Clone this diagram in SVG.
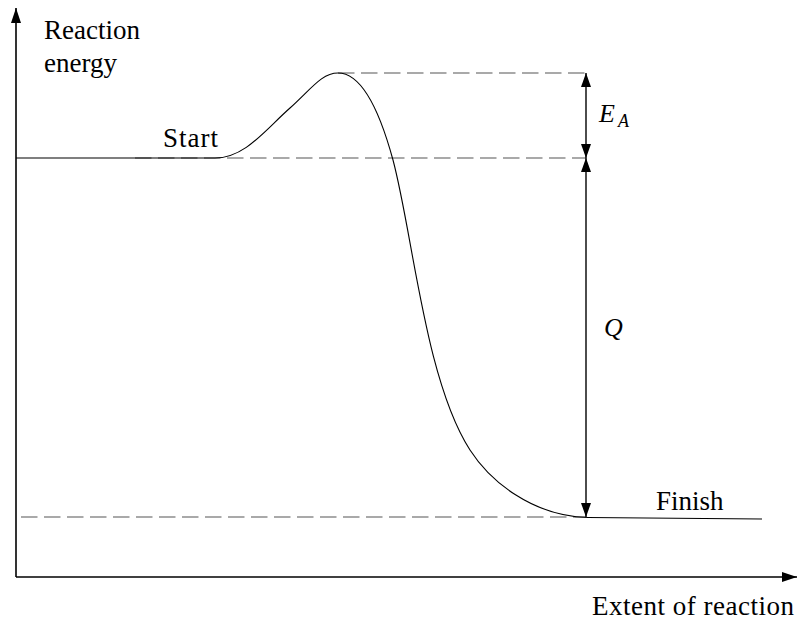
<svg xmlns="http://www.w3.org/2000/svg" width="798" height="621" viewBox="0 0 798 621">
<style>
.dash{stroke:#555;stroke-width:1.1;stroke-dasharray:16.5 6.5;fill:none}
.axis{stroke:#000;stroke-width:1.6;fill:none}
.arr{stroke:#000;stroke-width:1.4;fill:none}
.curve{stroke:#000;stroke-width:1.1;fill:none}
</style>
<defs>
<marker id="ah" viewBox="0 0 14 10" refX="14" refY="5" markerWidth="14" markerHeight="10" markerUnits="userSpaceOnUse" orient="auto-start-reverse">
<path d="M0,0 L14,5 L0,10 z" fill="#000"/>
</marker>
<marker id="axh" viewBox="0 0 15 10" refX="15" refY="5" markerWidth="15" markerHeight="10" markerUnits="userSpaceOnUse" orient="auto">
<path d="M0,0 L15,5 L0,10 z" fill="#000"/>
</marker>
</defs>
<g id="axes">
<line class="axis" x1="16" y1="577" x2="16" y2="8" marker-end="url(#axh)"/>
<line class="axis" x1="16" y1="577" x2="797" y2="577" marker-end="url(#axh)"/>
</g>
<g id="guides">
<line class="dash" x1="338" y1="73" x2="586" y2="73"/>
<line class="dash" x1="135" y1="158" x2="586" y2="158"/>
<line class="dash" x1="21" y1="517" x2="586" y2="517"/>
</g>
<g id="energy-curve">
<path class="curve" d="M16,158 L215,158 C245,158 265,130 290,108 C312,88 322,73 338,73 C360,73 378,105 393,160 C413,235 425,380 470,450 C490,481 532,516 588,517.5 L762,519"/>
</g>
<g id="connectors">
<line class="arr" x1="586" y1="73" x2="586" y2="158" marker-start="url(#ah)" marker-end="url(#ah)"/>
<line class="arr" x1="586" y1="158" x2="586" y2="517" marker-start="url(#ah)" marker-end="url(#ah)"/>
</g>
<g id="labels">
<text x="44" y="39" style="font-family:'Liberation Serif',serif;font-size:27px">Reaction</text>
<text x="44" y="72" style="font-family:'Liberation Serif',serif;font-size:27px">energy</text>
<text x="163" y="147" style="font-family:'Liberation Serif',serif;font-size:27px;letter-spacing:1px">Start</text>
<text x="656" y="510" style="font-family:'Liberation Serif',serif;font-size:27px">Finish</text>
<text x="592" y="615" style="font-family:'Liberation Serif',serif;font-size:27px;letter-spacing:0.5px">Extent of reaction</text>
<text x="599" y="122" style="font-family:'Liberation Serif',serif;font-size:26px;font-style:italic">E</text>
<text x="618" y="127" style="font-family:'Liberation Serif',serif;font-size:18px;font-style:italic">A</text>
<text x="604" y="336" style="font-family:'Liberation Serif',serif;font-size:26px;font-style:italic">Q</text>
</g>
</svg>
